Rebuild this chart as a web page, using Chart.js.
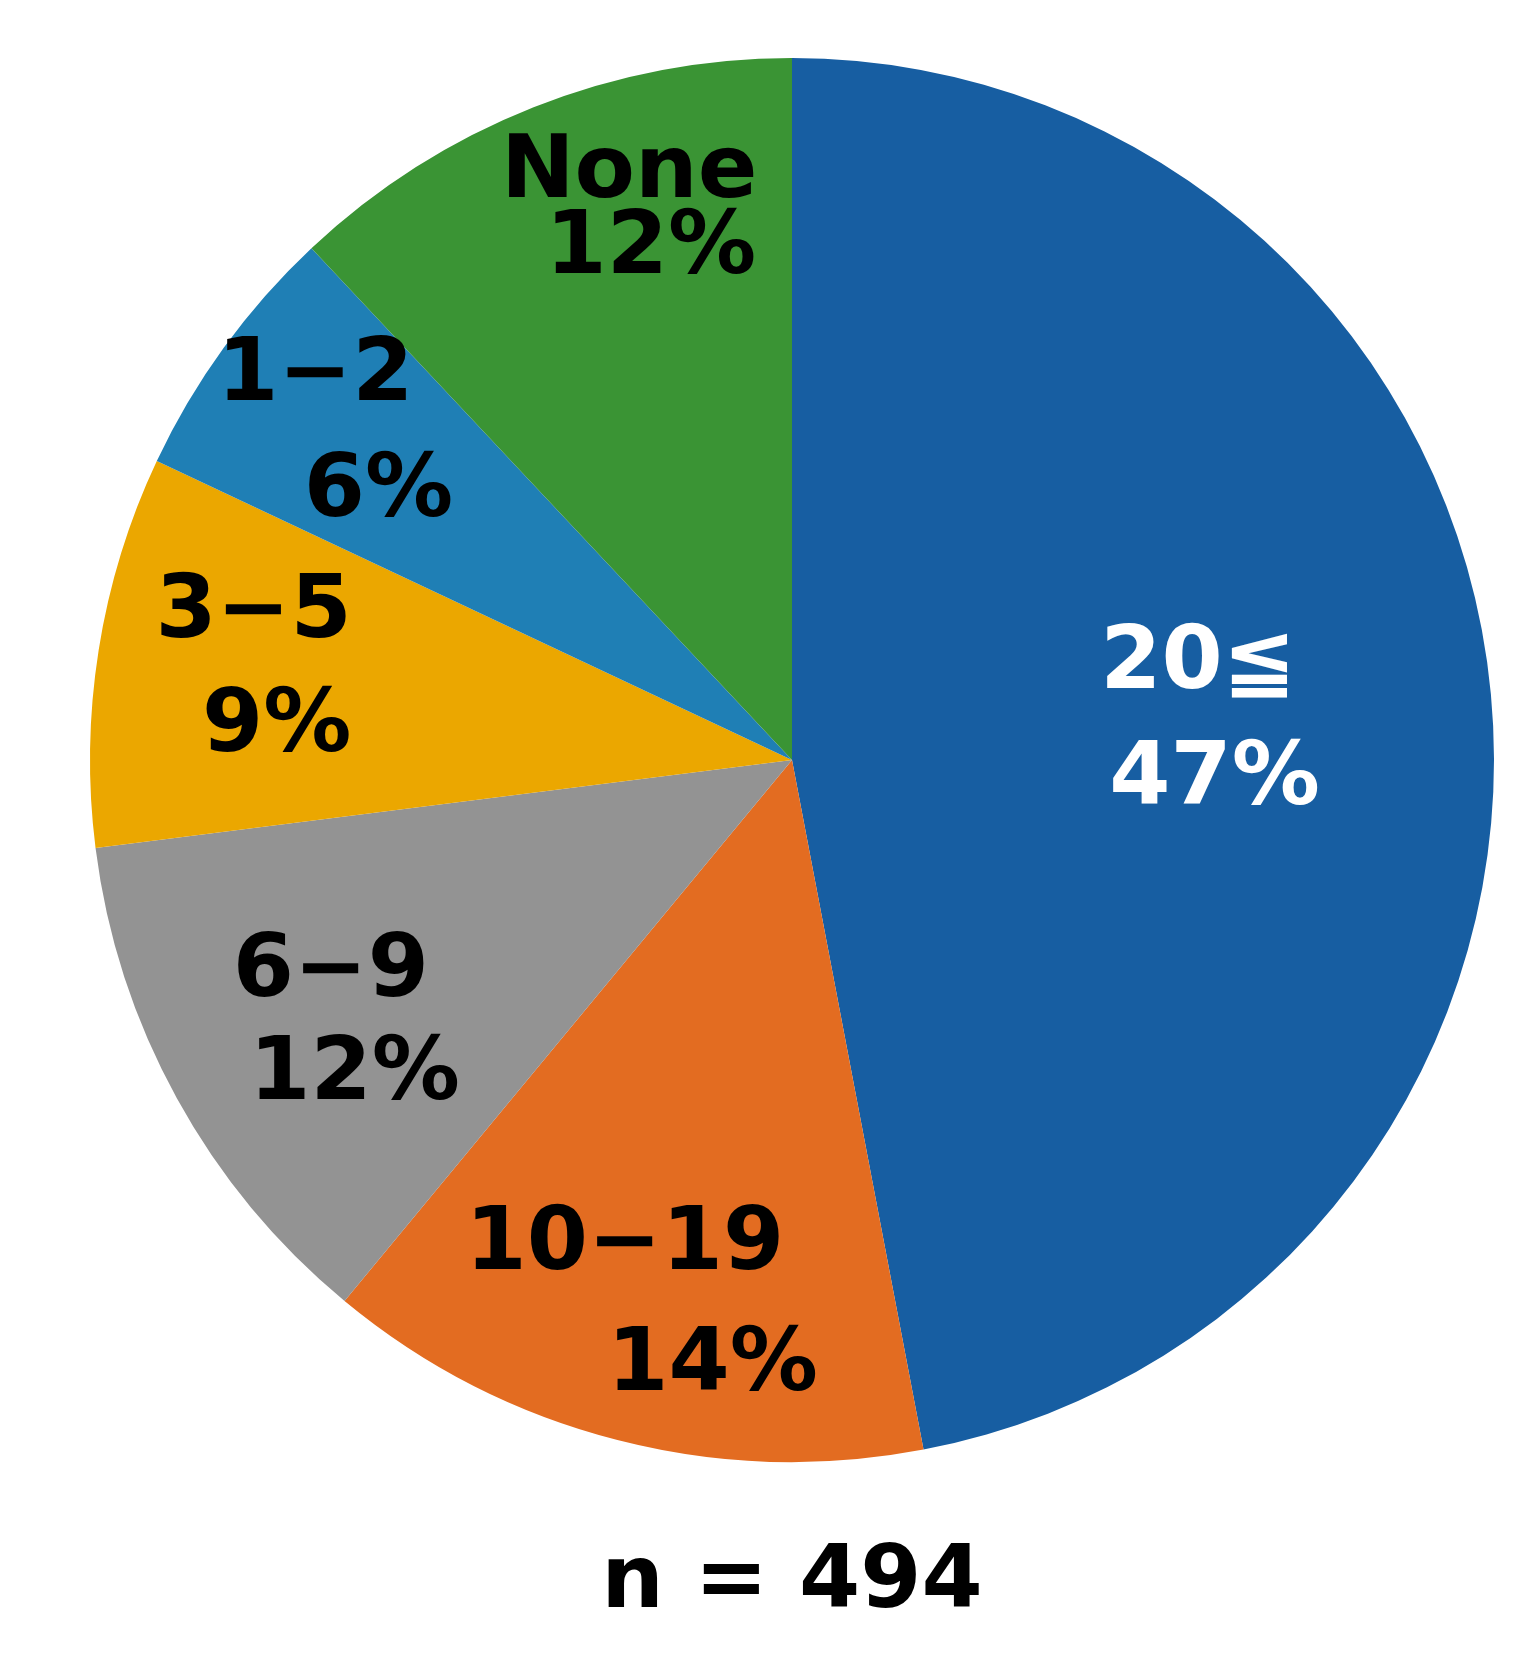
<!DOCTYPE html>
<html><head><meta charset="utf-8">
<script src="https://cdn.jsdelivr.net/npm/chart.js@4/dist/chart.umd.min.js"></script>
<style>html,body{margin:0;padding:0;background:#fff}#wrap{width:1539px;height:1653px}</style>
</head><body><div id="wrap"><canvas id="c"></canvas></div>
<script>
const categories = ["20≦", "10−19", "6−9", "3−5", "1−2", "None"];
const percents = [47, 14, 12, 9, 6, 12];
const colors = ["#175EA2", "#E36C21", "#939393", "#EBA700", "#1F7FB5", "#3A9434"];
const labelColors = ["#ffffff", "#000000", "#000000", "#000000", "#000000", "#000000"];
const sampleNote = "n = 494";
// label line anchors as fractions of radius from pie centre: [nameX, nameY, pctX, pctY]
const anchors = [
  [0.579,-0.135, 0.602,0.030],
  [-0.238,0.692, -0.113,0.865],
  [-0.657,0.304, -0.623,0.451],
  [-0.767,-0.208, -0.734,-0.045],
  [-0.679,-0.546, -0.589,-0.380],
  [-0.232,-0.835, -0.201,-0.726]
];

const labelPlugin = {
  id: 'lbl',
  afterDraw(chart) {
    const ctx = chart.ctx;
    const arcs = chart.getDatasetMeta(0).data;
    ctx.save();
    ctx.textAlign = 'center'; ctx.textBaseline = 'middle';
    ctx.font = 'bold 88px "DejaVu Sans"';
    arcs.forEach((a, i) => {
      const p = a.getProps(['x','y','outerRadius'], true);
      const R = p.outerRadius, an = anchors[i];
      ctx.fillStyle = labelColors[i];
      ctx.fillText(categories[i], p.x + an[0]*R, p.y + an[1]*R);
      ctx.fillText(percents[i] + '%', p.x + an[2]*R, p.y + an[3]*R);
    });
    const p0 = arcs[0].getProps(['x'], true);
    ctx.fillStyle = '#000';
    ctx.font = 'bold 88px "DejaVu Sans"';
    ctx.fillText(sampleNote, p0.x, 1584);
    ctx.restore();
  }
};

new Chart(document.getElementById('c'), {
  type: 'pie',
  data: { labels: categories, datasets: [{ data: percents, backgroundColor: colors, borderWidth: 0 }] },
  options: {
    responsive: true, maintainAspectRatio: false, animation: false,
    layout: { padding: { top: 58, bottom: 191, left: 90, right: 45 } },
    plugins: { legend: { display: false }, tooltip: { enabled: false } }
  },
  plugins: [labelPlugin]
});
</script></body></html>
